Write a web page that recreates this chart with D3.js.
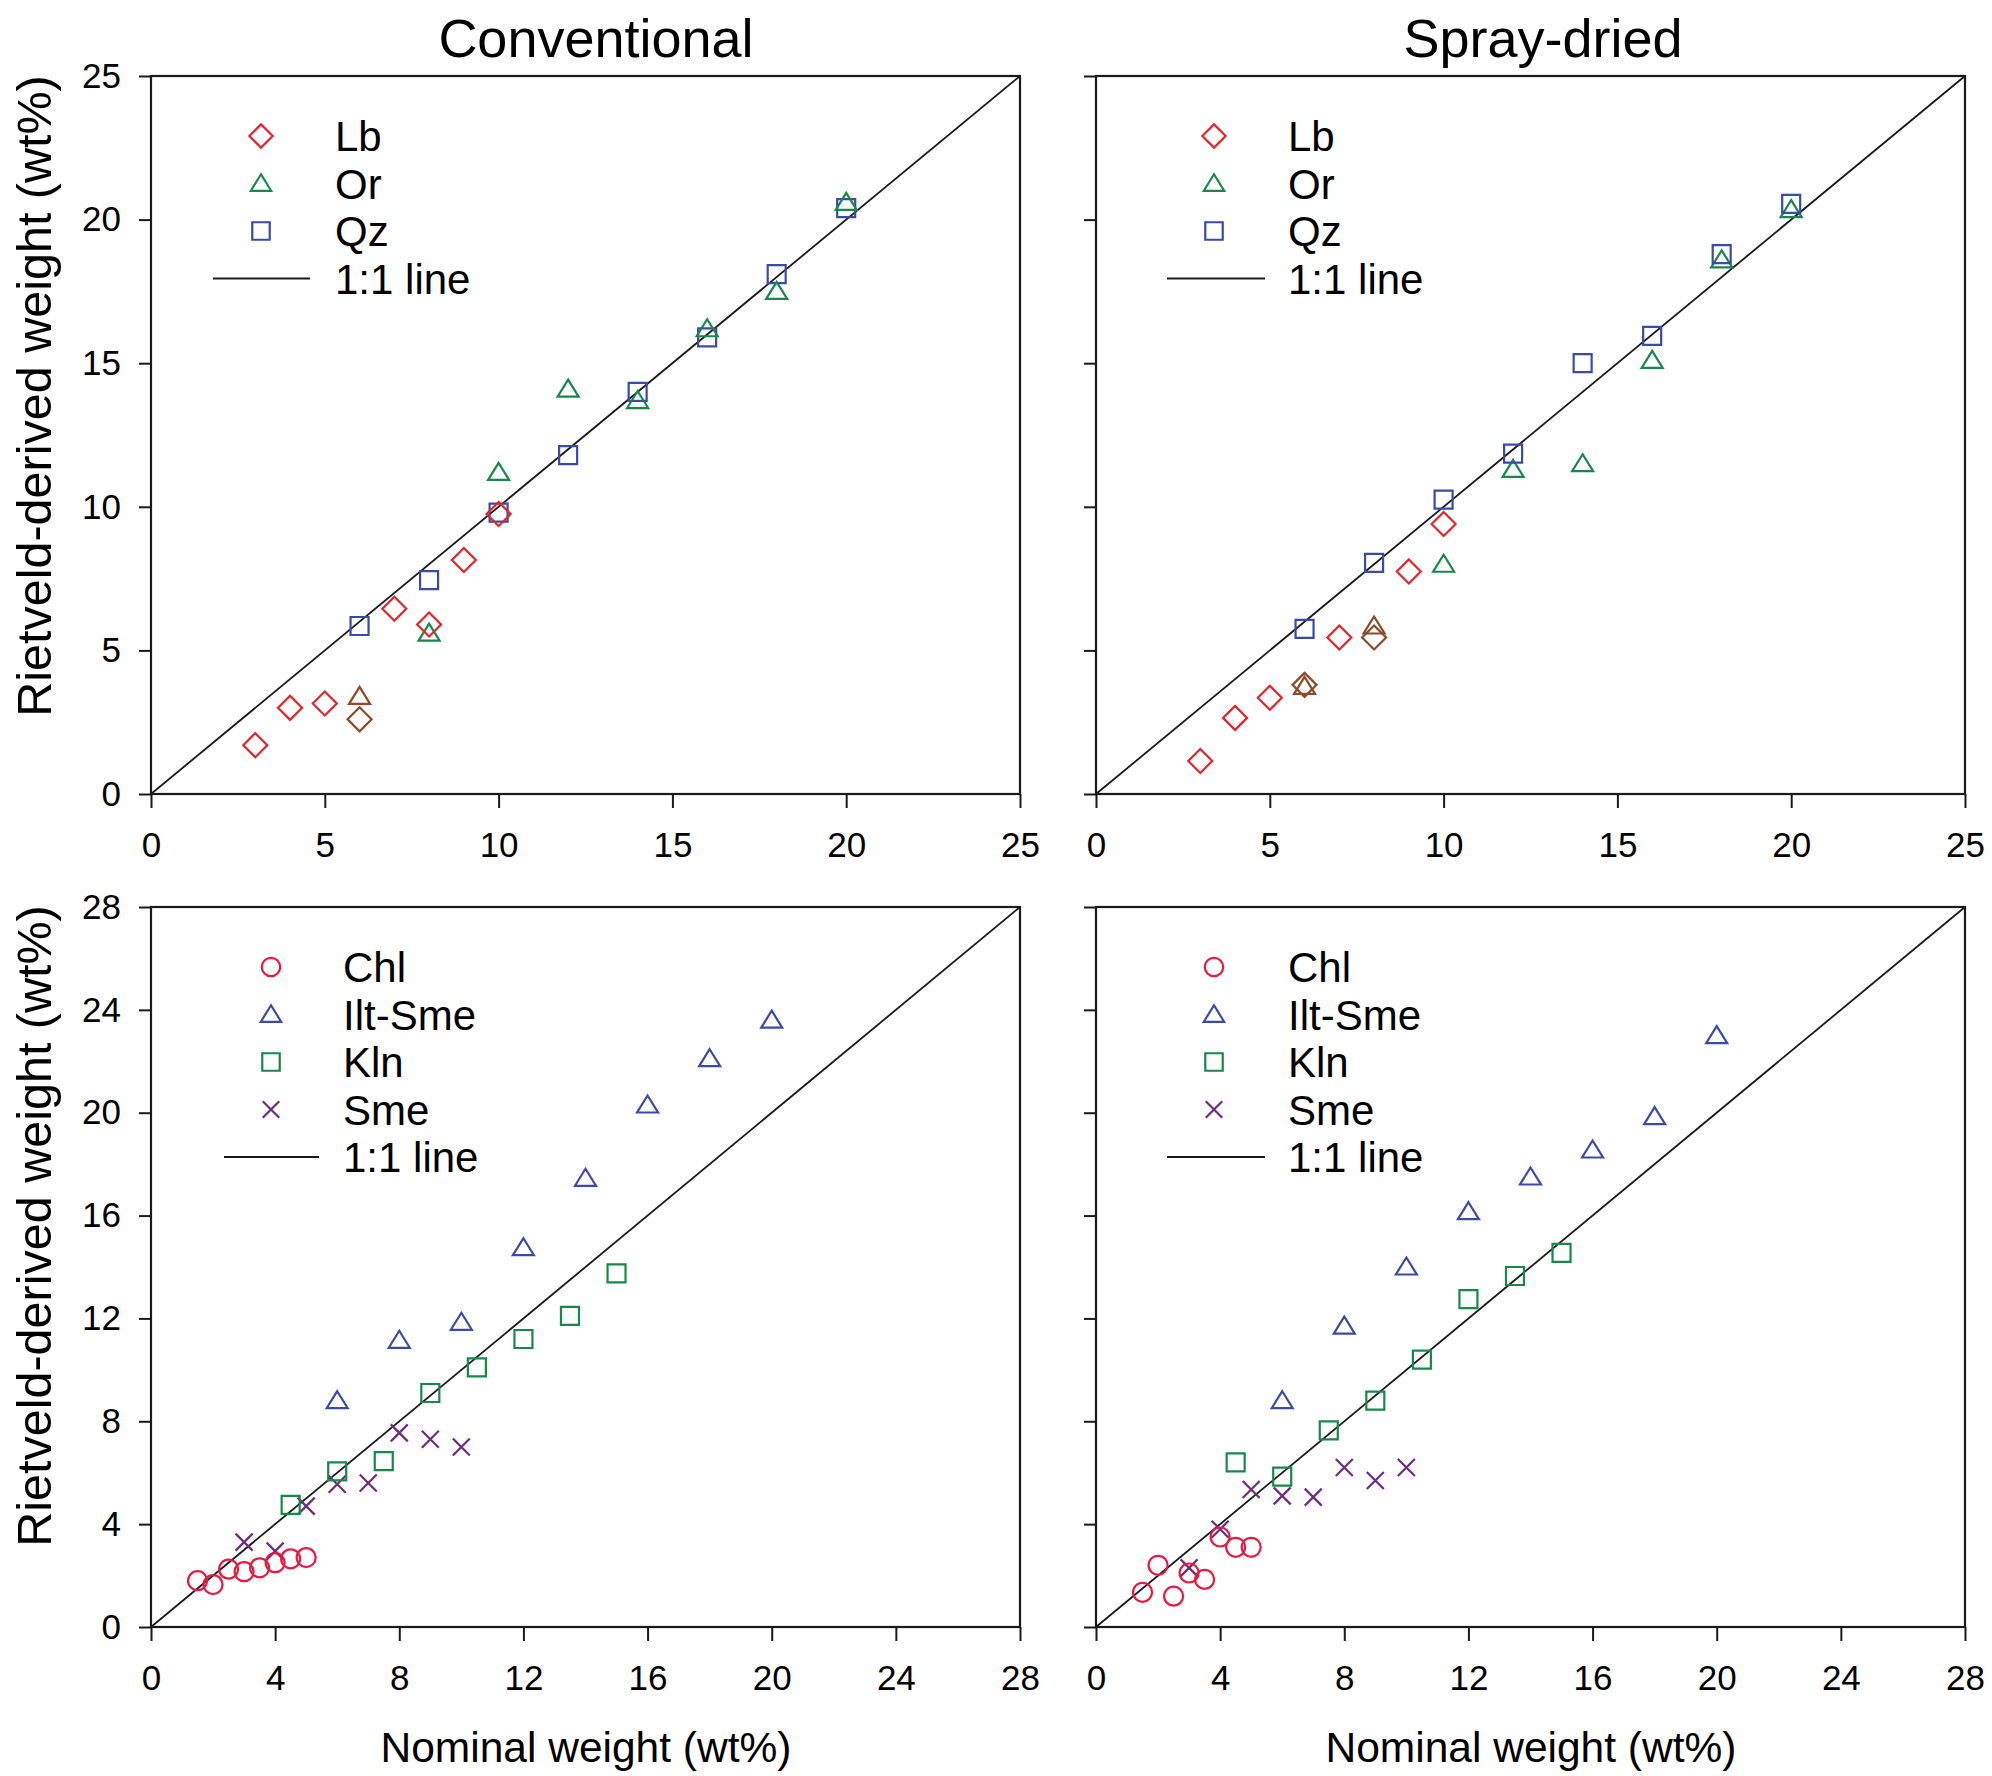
<!DOCTYPE html>
<html>
<head>
<meta charset="utf-8">
<script src="https://cdn.jsdelivr.net/npm/d3@7"></script>
<style>
  html, body { margin: 0; padding: 0; background: #fff; }
  svg { display: block; font-family: "Liberation Sans", Arial, sans-serif; }
</style>
</head>
<body>
<svg id="chart" width="1992" height="1776"></svg>
<script>
// ---- data: [nominal wt%, Rietveld-derived wt%] ----
// Feldspar / quartz mixtures, conventional preparation
const convLb    = [[3,1.7],[4,3.0],[5,3.15],[7,6.45],[8,5.9],[9,8.15],[10,9.75]];
const convLbAlt = [[6,2.6]];
const convOr    = [[8,5.6],[10,11.2],[12,14.1],[14,13.7],[16,16.2],[18,17.5],[20,20.6]];
const convOrAlt = [[6,3.4]];
const convQz    = [[6,5.85],[8,7.45],[10,9.8],[12,11.8],[14,14.0],[16,15.9],[18,18.1],[20,20.4]];

// Feldspar / quartz mixtures, spray-dried
const sprLb     = [[3,1.15],[4,2.65],[5,3.35],[7,5.45],[9,7.75],[10,9.4]];
const sprLbAlt  = [[6,3.8],[8,5.45]];
const sprOr     = [[10,8.0],[12,11.3],[14,11.5],[16,15.1],[18,18.6],[20,20.35]];
const sprOrAlt  = [[6,3.75],[8,5.85]];
const sprQz     = [[6,5.75],[8,8.05],[10,10.25],[12,11.85],[14,15.0],[16,15.95],[18,18.8],[20,20.55]];

// Clay mixtures, conventional preparation
const convChl = [[1.5,1.8],[2,1.65],[2.5,2.25],[3,2.15],[3.5,2.3],[4,2.5],[4.5,2.65],[5,2.7]];
const convIlt = [[6,8.8],[8,11.15],[10,11.85],[12,14.75],[14,17.45],[16,20.3],[18,22.1],[20,23.6]];
const convKln = [[4.5,4.75],[6,6.05],[7.5,6.45],[9,9.1],[10.5,10.1],[12,11.2],[13.5,12.1],[15,13.75]];
const convSme = [[3,3.3],[4,2.95],[5,4.7],[6,5.55],[7,5.6],[8,7.55],[9,7.3],[10,7.0]];

// Clay mixtures, spray-dried
const sprChl = [[1.5,1.35],[2,2.4],[2.5,1.2],[3,2.1],[3.5,1.85],[4,3.5],[4.5,3.1],[5,3.1]];
const sprIlt = [[6,8.8],[8,11.7],[10,14.0],[12,16.15],[14,17.5],[16,18.55],[18,19.85],[20,23.0]];
const sprKln = [[4.5,6.4],[6,5.85],[7.5,7.65],[9,8.8],[10.5,10.4],[12,12.75],[13.5,13.65],[15,14.55]];
const sprSme = [[3,2.3],[4,3.8],[5,5.35],[6,5.1],[7,5.05],[8,6.2],[9,5.7],[10,6.2]];

// axis ticks and labels
const topTicks    = [0,5,10,15,20,25];
const bottomTicks = [0,4,8,12,16,20,24,28];
const columnTitles = ["Conventional", "Spray-dried"];
const topLegend    = ["Lb", "Or", "Qz", "1:1 line"];
const bottomLegend = ["Chl", "Ilt-Sme", "Kln", "Sme", "1:1 line"];
const xTitle = "Nominal weight (wt%)";
const yTitle = "Rietveld-derived weight (wt%)";

// ---- styling ----
const COL = {
  red: "#e5232b", green: "#17884a", blue: "#3b4aa6", brown: "#8c4a2a",
  purple: "#6d2c7c", pink: "#e8193f", axis: "#1a1a1a"
};

// marker path builders (centered at 0,0)
const shapes = {
  diamond: r => `M0,${-r}L${r},0L0,${r}L${-r},0Z`,
  triangle: r => `M0,${-r*0.95}L${r*1.05},${r*0.75}L${-r*1.05},${r*0.75}Z`,
  square: r => `M${-r},${-r}H${r}V${r}H${-r}Z`,
  circle: r => `M${r},0A${r},${r} 0 1,1 ${-r},0A${r},${r} 0 1,1 ${r},0Z`,
  cross: r => `M${-r},${-r}L${r},${r}M${r},${-r}L${-r},${r}`
};
const shapeSize = { diamond: 12, triangle: 10, square: 9, circle: 9.5, cross: 8.5 };

const svg = d3.select("#chart");

const panels = [
  { left: 151, top: 76, w: 869, h: 718, max: 25, ticks: topTicks, yLabels: true,
    series: [
      { data: convLbAlt, shape: "diamond", color: COL.brown },
      { data: convOrAlt, shape: "triangle", color: COL.brown },
      { data: convQz, shape: "square", color: COL.blue },
      { data: convOr, shape: "triangle", color: COL.green },
      { data: convLb, shape: "diamond", color: COL.red }
    ],
    legend: { labels: topLegend, shapes: ["diamond","triangle","square"], colors: [COL.red, COL.green, COL.blue],
              mx: 110, tx: 184, l0: 62, l1: 159 } },
  { left: 1096, top: 76, w: 869, h: 718, max: 25, ticks: topTicks, yLabels: false,
    series: [
      { data: sprLbAlt, shape: "diamond", color: COL.brown },
      { data: sprOrAlt, shape: "triangle", color: COL.brown },
      { data: sprOr, shape: "triangle", color: COL.green },
      { data: sprQz, shape: "square", color: COL.blue },
      { data: sprLb, shape: "diamond", color: COL.red }
    ],
    legend: { labels: topLegend, shapes: ["diamond","triangle","square"], colors: [COL.red, COL.green, COL.blue],
              mx: 118, tx: 192, l0: 71, l1: 169 } },
  { left: 151, top: 907, w: 869, h: 720, max: 28, ticks: bottomTicks, yLabels: true,
    series: [
      { data: convSme, shape: "cross", color: COL.purple },
      { data: convKln, shape: "square", color: COL.green },
      { data: convIlt, shape: "triangle", color: COL.blue },
      { data: convChl, shape: "circle", color: COL.pink }
    ],
    legend: { labels: bottomLegend, shapes: ["circle","triangle","square","cross"],
              colors: [COL.pink, COL.blue, COL.green, COL.purple], mx: 120, tx: 192, l0: 73, l1: 168 } },
  { left: 1096, top: 907, w: 869, h: 720, max: 28, ticks: bottomTicks, yLabels: false,
    series: [
      { data: sprSme, shape: "cross", color: COL.purple },
      { data: sprKln, shape: "square", color: COL.green },
      { data: sprIlt, shape: "triangle", color: COL.blue },
      { data: sprChl, shape: "circle", color: COL.pink }
    ],
    legend: { labels: bottomLegend, shapes: ["circle","triangle","square","cross"],
              colors: [COL.pink, COL.blue, COL.green, COL.purple], mx: 118, tx: 192, l0: 71, l1: 169 } }
];

panels.forEach(p => {
  const x = d3.scaleLinear().domain([0, p.max]).range([0, p.w]);
  const y = d3.scaleLinear().domain([0, p.max]).range([p.h, 0]);
  const g = svg.append("g").attr("transform", `translate(${p.left},${p.top})`);

  // 1:1 reference line
  g.append("line")
    .attr("x1", x(0)).attr("y1", y(0)).attr("x2", x(p.max)).attr("y2", y(p.max))
    .attr("stroke", COL.axis).attr("stroke-width", 1.8);

  // bottom axis
  const xa = g.append("g").attr("transform", `translate(0,${p.h})`)
    .call(d3.axisBottom(x).tickValues(p.ticks).tickSize(14).tickPadding(24).tickFormat(d3.format("d")));
  xa.select(".domain").remove();
  xa.selectAll(".tick line").attr("stroke", COL.axis).attr("stroke-width", 2);
  xa.selectAll(".tick text").attr("font-size", 35).attr("fill", "#000")
    .attr("font-family", "Liberation Sans, Arial, sans-serif");

  // left axis
  const ya = g.append("g")
    .call(d3.axisLeft(y).tickValues(p.ticks).tickSize(12).tickPadding(18)
      .tickFormat(p.yLabels ? d3.format("d") : () => ""));
  ya.select(".domain").remove();
  ya.selectAll(".tick line").attr("stroke", COL.axis).attr("stroke-width", 2);
  ya.selectAll(".tick text").attr("font-size", 35).attr("fill", "#000")
    .attr("font-family", "Liberation Sans, Arial, sans-serif");

  // plot frame
  g.append("rect").attr("x", 0).attr("y", 0).attr("width", p.w).attr("height", p.h)
    .attr("fill", "none").attr("stroke", COL.axis).attr("stroke-width", 2.2);

  // data markers
  p.series.forEach(s => {
    g.append("g").selectAll("path").data(s.data).join("path")
      .attr("transform", d => `translate(${x(d[0])},${y(d[1])})`)
      .attr("d", shapes[s.shape](shapeSize[s.shape]))
      .attr("fill", "none").attr("stroke", s.color).attr("stroke-width", 2.2);
  });

  // legend
  const L = p.legend;
  const lg = g.append("g");
  L.labels.forEach((lab, i) => {
    const ry = 60 + i * 47.5;
    if (i < L.shapes.length) {
      lg.append("path").attr("transform", `translate(${L.mx},${ry})`)
        .attr("d", shapes[L.shapes[i]](shapeSize[L.shapes[i]] * 0.97))
        .attr("fill", "none").attr("stroke", L.colors[i]).attr("stroke-width", 2.2);
    } else {
      lg.append("line").attr("x1", L.l0).attr("x2", L.l1).attr("y1", ry).attr("y2", ry)
        .attr("stroke", COL.axis).attr("stroke-width", 2);
    }
    lg.append("text").attr("x", L.tx).attr("y", ry + 15)
      .attr("font-size", 42).attr("fill", "#000").text(lab);
  });
});

// column titles
svg.append("text").attr("x", 596).attr("y", 57).attr("text-anchor", "middle")
  .attr("font-size", 54).text(columnTitles[0]);
svg.append("text").attr("x", 1543).attr("y", 57).attr("text-anchor", "middle")
  .attr("font-size", 54).text(columnTitles[1]);

// axis titles
[586, 1531].forEach(cx => {
  svg.append("text").attr("x", cx).attr("y", 1762).attr("text-anchor", "middle")
    .attr("font-size", 42.5).text(xTitle);
});
[396, 1226].forEach(cy => {
  svg.append("text").attr("transform", `translate(51,${cy}) rotate(-90)`)
    .attr("text-anchor", "middle").attr("font-size", 48.5).text(yTitle);
});
</script>
</body>
</html>
